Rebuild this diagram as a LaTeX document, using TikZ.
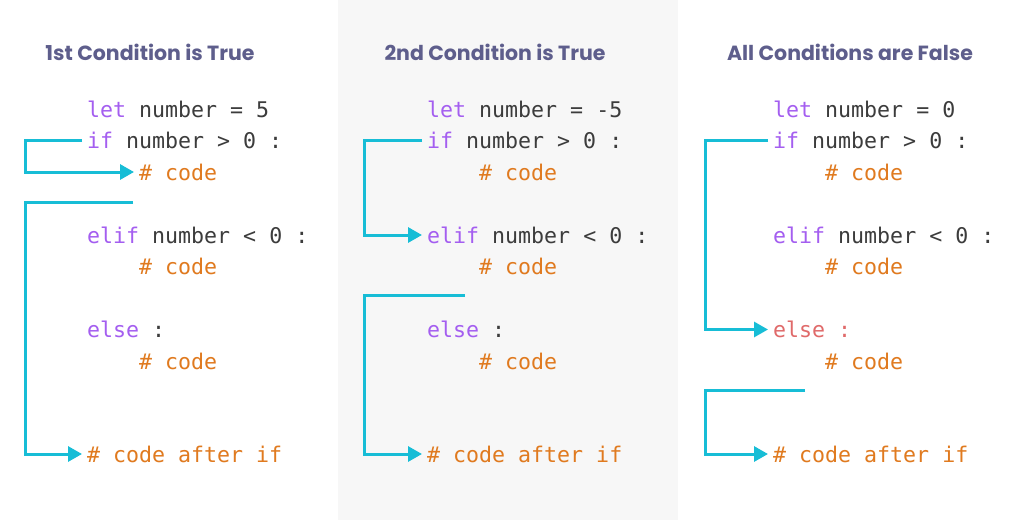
\documentclass[tikz,border=0pt]{standalone}
\usepackage{fontspec}
\setmonofont{DejaVu Sans Mono}
\newfontfamily\titlefont{Poppins}
\usetikzlibrary{arrows.meta}
\definecolor{cyanline}{HTML}{17BDD6}
\definecolor{kw}{HTML}{A45EF0}
\definecolor{cmt}{HTML}{E07A1F}
\definecolor{txt}{HTML}{3C3C3C}
\definecolor{ttl}{HTML}{5E5E8C}
\definecolor{elsered}{HTML}{E06A6A}
\definecolor{panelbg}{HTML}{F7F7F7}
\tikzset{
  code/.style={anchor=base west, inner sep=0pt, text height=16pt, text depth=0pt,
    font=\ttfamily\fontsize{21.6}{24}\selectfont, text=txt},
  title/.style={anchor=base, inner sep=0pt, font=\titlefont\bfseries\fontsize{20.5}{24}\selectfont, text=ttl},
  flow/.style={draw=cyanline, line width=3pt, line join=miter,
    -{Triangle[length=14pt,width=15pt]}, shorten >=5pt},
}
\newcommand{\kw}[1]{\textcolor{kw}{#1}}
\newcommand{\cm}[1]{\textcolor{cmt}{#1}}
\begin{document}
\begin{tikzpicture}[x=1pt,y=-1pt]
\fill[white] (0,0) rectangle (1024,520);
\fill[panelbg] (338,0) rectangle (678,520);
\useasboundingbox (0,0) rectangle (1024,520);

% titles
\node[title] (t1) at (150,60) {1st Condition is True};
\node[title] (t2) at (495,60) {2nd Condition is True};
\node[title] (t3) at (850,60) {All Conditions are False};

% panel 1
\node[code] (let1) at (87,117) {\kw{let} number = 5};
\node[code] (if1) at (87,148.5) {\kw{if} number > 0 :};
\node[code] (c1a) at (139,180) {\cm{\# code}};
\node[code] (elif1) at (87,243) {\kw{elif} number < 0 :};
\node[code] (c1b) at (139,274.5) {\cm{\# code}};
\node[code] (else1) at (87,337.5) {\kw{else} :};
\node[code] (c1c) at (139,369) {\cm{\# code}};
\node[code] (after1) at (87,462) {\cm{\# code after if}};

% panel 2
\node[code] (let2) at (427,117) {\kw{let} number = -5};
\node[code] (if2) at (427,148.5) {\kw{if} number > 0 :};
\node[code] (c2a) at (479,180) {\cm{\# code}};
\node[code] (elif2) at (427,243) {\kw{elif} number < 0 :};
\node[code] (c2b) at (479,274.5) {\cm{\# code}};
\node[code] (else2) at (427,337.5) {\kw{else} :};
\node[code] (c2c) at (479,369) {\cm{\# code}};
\node[code] (after2) at (427,462) {\cm{\# code after if}};

% panel 3
\node[code] (let3) at (773,117) {\kw{let} number = 0};
\node[code] (if3) at (773,148.5) {\kw{if} number > 0 :};
\node[code] (c3a) at (825,180) {\cm{\# code}};
\node[code] (elif3) at (773,243) {\kw{elif} number < 0 :};
\node[code] (c3b) at (825,274.5) {\cm{\# code}};
\node[code, text=elsered] (else3) at (773,337.5) {else :};
\node[code] (c3c) at (825,369) {\cm{\# code}};
\node[code] (after3) at (773,462) {\cm{\# code after if}};

% free ends
\coordinate (s1) at (133,202);
\coordinate (s2) at (465,295);
\coordinate (s3) at (805,390);

% connectors
\draw[flow, shorten <=5pt] (if1.west) -- (if1.west -| 25,0) |- (c1a.west);
\draw[flow] (s1) -- (s1 -| 25,0) |- (after1.west);
\draw[flow, shorten <=5pt] (if2.west) -- (if2.west -| 364,0) |- (elif2.west);
\draw[flow] (s2) -- (s2 -| 364,0) |- (after2.west);
\draw[flow, shorten <=5pt] (if3.west) -- (if3.west -| 705,0) |- (else3.west);
\draw[flow] (s3) -- (s3 -| 705,0) |- (after3.west);
\end{tikzpicture}
\end{document}
